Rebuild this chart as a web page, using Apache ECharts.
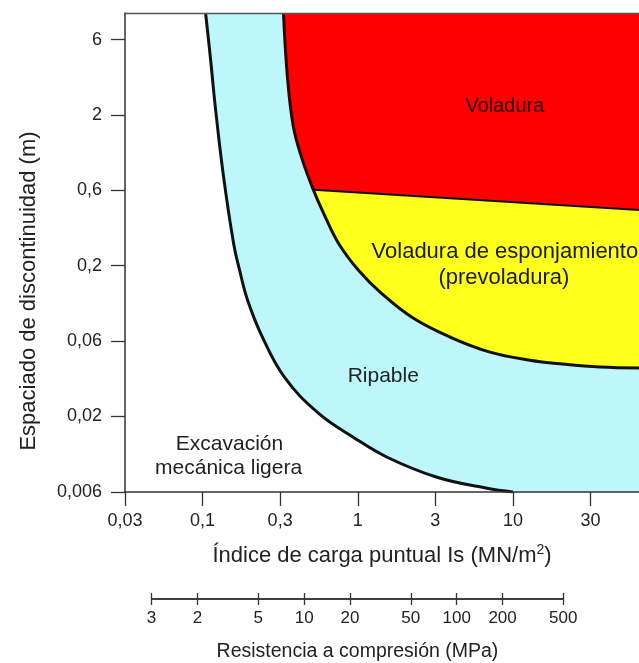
<!DOCTYPE html>
<html><head><meta charset="utf-8">
<script src="https://cdn.jsdelivr.net/npm/echarts@6/dist/echarts.min.js"></script>
<style>html,body{margin:0;padding:0;background:#fff}#c{width:639px;height:663px}</style>
</head><body><div id="c"></div>
<script>
// ---- data ----
const xTickValues = [0.0316, 0.1, 0.316, 1, 3.16, 10, 31.6];
const xTickLabels = ['0,03', '0,1', '0,3', '1', '3', '10', '30'];
const yTickValues = [0.006, 0.019, 0.06, 0.19, 0.6, 1.9, 6];
const yTickLabels = ['0,006', '0,02', '0,06', '0,2', '0,6', '2', '6'];
const mpaTickValues = [1, 2, 5, 10, 20, 50, 100, 200, 500];
const mpaTickLabels = ['3', '2', '5', '10', '20', '50', '100', '200', '500'];

const xMin = 0.0316, xMax = 65;      // Is (MN/m2)
const yMin = 0.006, yMax = 9.0;      // spacing (m)

// boundary white / Ripable
const curveAIs = [0.1045, 0.1126, 0.1213, 0.1365, 0.1582, 0.1730, 0.1948, 0.2395, 0.3367, 0.5572, 0.9357, 1.547, 3.245, 6.805, 10.0];
const curveAS  = [9.0, 4.41, 2.05, 0.737, 0.269, 0.178, 0.1125, 0.0659, 0.03466, 0.0200, 0.01385, 0.0102, 0.00751, 0.00635, 0.006];
// boundary Ripable / voladura
const curveBIs = [0.332, 0.352, 0.3847, 0.4396, 0.5174, 0.609, 0.7491, 1.0074, 1.416, 2.275, 3.934, 7.115, 12.86, 20.97, 36.3, 65];
const curveBS  = [9.0, 3.40, 1.584, 0.956, 0.605, 0.4126, 0.269, 0.178, 0.1252, 0.0854, 0.0639, 0.0508, 0.0449, 0.0423, 0.0404, 0.0398];
// boundary voladura / prevoladura
const lineCIs = [0.5174, 65];
const lineCS  = [0.605, 0.445];

const regionLabels = [
  { text: 'Voladura', is: 8.88, s: 2.15, size: 20, color: '#2a0000' },
  { text: 'Voladura de esponjamiento', is: 8.88, s: 0.234, size: 22, color: '#1a1a1a' },
  { text: '(prevoladura)', is: 8.75, s: 0.157, size: 22, color: '#1a1a1a' },
  { text: 'Ripable', is: 1.46, s: 0.0352, size: 21, color: '#222' },
  { text: 'Excavación', is: 0.149, s: 0.01245, size: 21, color: '#222' },
  { text: 'mecánica ligera', is: 0.147, s: 0.00862, size: 21, color: '#222' }
];

// ---- build ----
const L = Math.log10;
const pts = (xs, ys) => xs.map((x, i) => [L(x), L(ys[i])]);
const A = pts(curveAIs, curveAS);
const B = pts(curveBIs, curveBS);
const C = pts(lineCIs, lineCS);
const polys = [
  { pts: A.concat([[L(xMax), L(yMin)], [L(xMax), L(yMax)]]), fill: '#bef7fb' },
  { pts: B.concat([[L(xMax), L(yMax)]]), fill: '#ffff1e' },
  { pts: B.slice(0, 5).concat([C[1], [L(xMax), L(yMax)]]), fill: '#fe0000' }
];
const fmtFrom = (vals, labels) => v => {
  const i = vals.findIndex(t => Math.abs(L(t) - v) < 1e-6);
  return i >= 0 ? labels[i] : '';
};
const FONT = 'Liberation Sans, Arial, sans-serif';

const chart = echarts.init(document.getElementById('c'), null, { renderer: 'canvas' });
chart.setOption({
  animation: false,
  backgroundColor: '#fff',
  textStyle: { fontFamily: FONT },
  grid: [
    { left: 125, right: 0, top: 13, bottom: 171 },
    { left: 151.6, right: 75.7, top: 599, height: 0 }
  ],
  xAxis: [
    {
      gridIndex: 0, type: 'value', min: L(xMin), max: L(xMax), position: 'bottom', z: 10,
      splitLine: { show: false },
      axisLine: { onZero: false, lineStyle: { color: '#333', width: 1.5 } },
      axisTick: { length: 14, lineStyle: { color: '#333', width: 1.3 }, customValues: xTickValues.map(L) },
      axisLabel: { customValues: xTickValues.map(L), formatter: fmtFrom(xTickValues, xTickLabels),
        fontSize: 18, color: '#222', margin: 20, fontFamily: FONT },
      name: '{a|Índice de carga puntual Is (MN/m}{s|2}{a|)}',
      nameLocation: 'middle', nameGap: 51,
      nameTextStyle: { rich: {
        a: { fontSize: 22, color: '#222', fontFamily: FONT, lineHeight: 26 },
        s: { fontSize: 14, color: '#222', fontFamily: FONT, verticalAlign: 'top', lineHeight: 26, padding: [0, 0, 10, 0] }
      } }
    },
    {
      gridIndex: 0, type: 'value', min: L(xMin), max: L(xMax), position: 'top', z: 10,
      splitLine: { show: false }, axisTick: { show: false }, axisLabel: { show: false },
      axisLine: { onZero: false, lineStyle: { color: '#555', width: 1.3 } }
    },
    {
      gridIndex: 1, type: 'value', min: 0, max: L(500), position: 'bottom',
      splitLine: { show: false },
      axisLine: { onZero: false, lineStyle: { color: '#333', width: 1.5 } },
      axisTick: { length: 6, lineStyle: { color: '#333', width: 1.3 }, customValues: mpaTickValues.map(L) },
      axisLabel: { customValues: mpaTickValues.map(L), formatter: fmtFrom(mpaTickValues, mpaTickLabels),
        fontSize: 17, color: '#222', margin: 11, fontFamily: FONT },
      name: 'Resistencia a compresión (MPa)', nameLocation: 'middle', nameGap: 43,
      nameTextStyle: { fontSize: 19.5, color: '#222', fontFamily: FONT }
    },
    {
      gridIndex: 1, type: 'value', min: 0, max: L(500), position: 'top',
      splitLine: { show: false }, axisLabel: { show: false },
      axisLine: { onZero: false, lineStyle: { color: '#333', width: 1.5 } },
      axisTick: { length: 6, lineStyle: { color: '#333', width: 1.3 }, customValues: mpaTickValues.map(L) }
    }
  ],
  yAxis: [
    {
      gridIndex: 0, type: 'value', min: L(yMin), max: L(yMax), z: 10,
      splitLine: { show: false },
      axisLine: { onZero: false, lineStyle: { color: '#333', width: 1.5 } },
      axisTick: { length: 14, lineStyle: { color: '#333', width: 1.3 }, customValues: yTickValues.map(L) },
      axisLabel: { customValues: yTickValues.map(L), formatter: fmtFrom(yTickValues, yTickLabels),
        fontSize: 18, color: '#222', margin: 23, fontFamily: FONT }
    },
    { gridIndex: 1, type: 'value', show: false, min: 0, max: 1 }
  ],
  graphic: [{
    type: 'text', x: 29, y: 291, rotation: Math.PI / 2,
    style: { text: 'Espaciado de discontinuidad (m)', fontSize: 22, fontFamily: FONT, fill: '#222',
      align: 'center', verticalAlign: 'middle' }
  }],
  series: [
    {
      type: 'custom', xAxisIndex: 0, yAxisIndex: 0, clip: true, z: 1,
      data: polys.map((p, i) => [i]),
      renderItem: (params, api) => {
        const p = polys[params.dataIndex];
        return { type: 'polygon', shape: { points: p.pts.map(q => api.coord(q)) },
          style: { fill: p.fill, stroke: null } };
      }
    },
    { type: 'line', xAxisIndex: 0, yAxisIndex: 0, data: A, showSymbol: false, smooth: 0.4, z: 3,
      lineStyle: { color: '#111', width: 3 } },
    { type: 'line', xAxisIndex: 0, yAxisIndex: 0, data: B, showSymbol: false, smooth: 0.4, z: 3,
      lineStyle: { color: '#111', width: 3 } },
    { type: 'line', xAxisIndex: 0, yAxisIndex: 0, data: C, showSymbol: false, z: 3,
      lineStyle: { color: '#111', width: 2 } },
    {
      type: 'custom', xAxisIndex: 0, yAxisIndex: 0, clip: false, z: 5,
      data: regionLabels.map((r, i) => [L(r.is), L(r.s)]),
      renderItem: (params, api) => {
        const r = regionLabels[params.dataIndex];
        const c = api.coord([L(r.is), L(r.s)]);
        return { type: 'text', x: c[0], y: c[1],
          style: { text: r.text, fontSize: r.size, fontFamily: FONT, fill: r.color,
            align: 'center', verticalAlign: 'middle' } };
      }
    }
  ]
});
</script></body></html>
